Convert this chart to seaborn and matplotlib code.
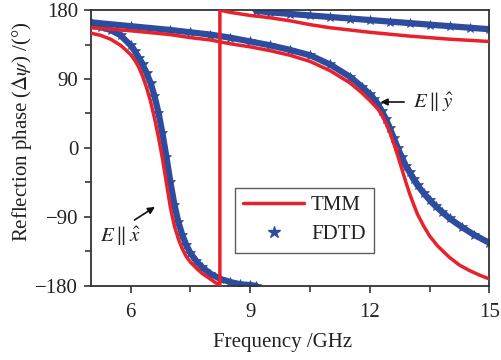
import matplotlib
matplotlib.use("Agg")
import matplotlib.pyplot as plt
import seaborn as sns
import pandas as pd
from matplotlib.lines import Line2D
from matplotlib.ticker import AutoMinorLocator

# ---------------- data ----------------
# TMM, E || x (includes the phase wrap at 8.24 GHz)
f_x_tmm = [5.0, 5.25, 5.5, 5.75, 5.9, 6.0, 6.1, 6.2, 6.3, 6.4, 6.5, 6.6, 6.7, 6.8,
           6.9, 7.0, 7.1, 7.2, 7.3, 7.4, 7.5, 7.65, 7.8, 8.0, 8.24, 8.24, 8.5, 9.0,
           9.5, 10.0, 10.5, 11.0, 12.0, 13.0, 14.0, 15.0]
p_x_tmm = [150, 147, 142, 134, 127, 122, 115, 106, 94, 79, 61, 39, 14, -14,
           -46, -78, -102, -119, -132, -142, -149, -157, -164, -171, -180, 180, 177, 173,
           170, 166, 161, 157, 151, 146, 142, 139]

# TMM, E || y
f_y_tmm = [5.0, 6.0, 7.0, 7.5, 8.0, 8.5, 9.0, 9.5, 10.0, 10.5, 11.0, 11.5, 11.8,
           12.0, 12.2, 12.3, 12.4, 12.5, 12.6, 12.7, 12.8, 12.9, 13.0, 13.1, 13.2,
           13.35, 13.5, 13.7, 14.0, 14.25, 14.5, 14.75, 15.0]
p_y_tmm = [157, 153, 148, 144, 141, 136, 132, 127, 121, 113, 101, 85, 72,
           62, 51, 43, 33, 21, 6, -10, -27, -44, -60, -74, -87,
           -102, -115, -128, -143, -153, -160, -166, -171]

# FDTD, E || x  (lower branch, then upper branch after the wrap)
f_x_fdtd_a = [5.0, 5.25, 5.5, 5.75, 6.0, 6.1, 6.2, 6.3, 6.4, 6.5, 6.6, 6.7, 6.8,
              6.9, 7.0, 7.1, 7.2, 7.3, 7.4, 7.5, 7.65, 7.8, 8.0, 8.25, 8.5, 8.75,
              9.0, 9.15]
p_x_fdtd_a = [161, 158, 154, 147, 134, 127, 118, 109, 98, 85, 68, 46, 19,
              -12, -45, -74, -97, -114, -127, -137, -148, -156, -164, -171, -175, -178,
              -179, -180]
f_x_fdtd_b = [9.15, 9.5, 10.0, 10.5, 11.0, 11.5, 12.0, 12.5, 13.0, 13.5, 14.0, 14.5, 15.0]
p_x_fdtd_b = [179, 177, 175, 173, 171, 169, 167, 165, 163, 161, 159, 157, 155]

# FDTD, E || y
f_y_fdtd = [5.0, 6.0, 7.0, 7.5, 8.0, 8.5, 9.0, 9.5, 10.0, 10.5, 11.0, 11.5, 11.8,
            12.0, 12.1, 12.2, 12.3, 12.4, 12.5, 12.6, 12.7, 12.8, 12.9, 13.0, 13.1,
            13.2, 13.35, 13.5, 13.65, 13.8, 14.0, 14.3, 14.6, 15.0]
p_y_fdtd = [164, 159, 154, 151, 148, 144, 139, 134, 128, 121, 109, 93, 80,
            70, 64, 57, 48, 38, 26, 13, 0, -12, -23, -32, -41,
            -49, -59, -68, -76, -83, -92, -103, -113, -124]

x_ticks = [6, 9, 12, 15]
y_ticks = [-180, -90, 0, 90, 180]
legend_labels = ["TMM", "FDTD"]

RED = "#e8212b"
BLUE = "#2d4c9e"

# ---------------- style ----------------
sns.set_theme(style="ticks")
plt.rcParams["font.family"] = ["Liberation Serif", "DejaVu Serif"]
plt.rcParams["mathtext.fontset"] = "stix"

fig = plt.figure(figsize=(5.01, 3.6), dpi=100)
ax = fig.add_axes([0.181, 0.206, 0.796, 0.766])

fdtd_kw = dict(color=BLUE, lw=4.5, marker="*", markersize=7, mec=BLUE, mfc=BLUE,
               mew=0.5, sort=False, estimator=None, ax=ax, zorder=2)
for fx, py in [(f_x_fdtd_a, p_x_fdtd_a), (f_x_fdtd_b, p_x_fdtd_b), (f_y_fdtd, p_y_fdtd)]:
    sns.lineplot(data=pd.DataFrame({"f": fx, "p": py}), x="f", y="p", **fdtd_kw)

tmm_kw = dict(color=RED, lw=2.5, sort=False, estimator=None, ax=ax, zorder=3)
for fx, py in [(f_x_tmm, p_x_tmm), (f_y_tmm, p_y_tmm)]:
    sns.lineplot(data=pd.DataFrame({"f": fx, "p": py}), x="f", y="p", **tmm_kw)

# small arrowhead on the E||y TMM curve
ax.annotate("", xy=(12.64, 8), xytext=(12.74, -18),
            arrowprops=dict(arrowstyle="-|>", color=RED, lw=0, mutation_scale=11),
            zorder=4)

ax.set_xlim(5, 15)
ax.set_ylim(-180, 180)
ax.set_xticks(x_ticks)
ax.set_yticks(y_ticks)
ax.set_yticklabels([str(v).replace("-", "\u2212") for v in y_ticks])
ax.xaxis.set_minor_locator(AutoMinorLocator(2))
ax.yaxis.set_minor_locator(AutoMinorLocator(2))
ax.tick_params(which="major", direction="out", length=5, width=1.2, color="#333333",
               labelsize=15, labelcolor="#222222")
ax.tick_params(axis="x", which="major", pad=7)
ax.tick_params(axis="y", which="major", pad=4)
ax.tick_params(which="minor", direction="out", length=4, width=1.2, color="#333333")
for s in ax.spines.values():
    s.set_visible(True)
    s.set_color("#333333")
    s.set_linewidth(1.3)

ax.set_xlabel("Frequency /GHz", fontsize=15, color="#222222")
ax.set_ylabel(r"Reflection phase ($\Delta\psi$) /(°)", fontsize=15, color="#222222")
ax.xaxis.set_label_coords(0.48, -0.172)
ax.yaxis.set_label_coords(-0.142, 0.56)

# annotations
ax.text(5.76, -116, r"$E\parallel\hat{x}$", fontsize=15, ha="center", va="center",
        color="#222222")
ax.annotate("", xy=(6.67, -75), xytext=(6.04, -96),
            arrowprops=dict(arrowstyle="-|>", color="#111111", lw=1.2, mutation_scale=10))
ax.text(13.6, 60, r"$E\parallel\hat{y}$", fontsize=15, ha="center", va="center",
        color="#222222")
ax.annotate("", xy=(12.2, 60), xytext=(12.93, 60),
            arrowprops=dict(arrowstyle="-|>", color="#111111", lw=1.2, mutation_scale=10))

handles = [Line2D([], [], color=RED, lw=2.5),
           Line2D([], [], color=BLUE, lw=0, marker="*", markersize=9, mec=BLUE, mfc=BLUE)]
leg = ax.legend(handles, legend_labels, loc="lower left", bbox_to_anchor=(0.362, 0.12),
                fontsize=15, frameon=True, fancybox=False, shadow=False,
                handlelength=2.9, handletextpad=0.35, labelspacing=0.45,
                borderpad=0.4, borderaxespad=0)
leg.get_frame().set_edgecolor("#333333")
leg.get_frame().set_linewidth(1.0)
for t in leg.get_texts():
    t.set_color("#222222")

fig.savefig("out.png", dpi=100)
